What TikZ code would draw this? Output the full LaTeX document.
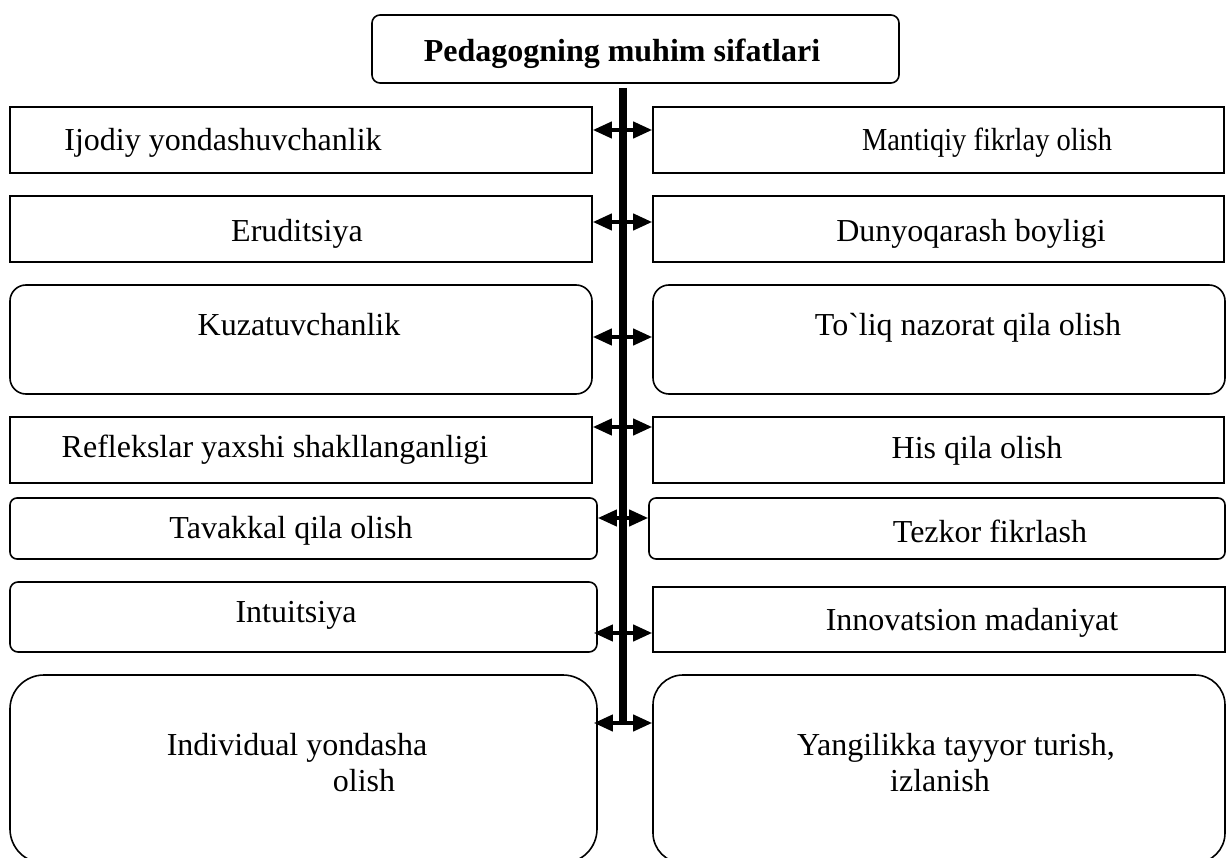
\documentclass[tikz,border=0pt]{standalone}
\usepackage{fontspec}
\setmainfont{Liberation Serif}
\newfontfamily\nomapserif{Liberation Serif}[Ligatures=TeXOff]
\usepackage{graphicx}
\usetikzlibrary{arrows.meta,calc}
\begin{document}
\begin{tikzpicture}[x=1pt,y=-1pt,
  box/.style={draw, line width=1.6pt, inner sep=0pt},
  txt/.style={font=\fontsize{32}{36}\selectfont, inner sep=0pt, align=center, yshift=-3pt},
  bar/.style={line width=7.5pt},
  arr/.style={line width=4pt, {Triangle[length=19pt,width=16pt]}-{Triangle[length=19pt,width=16pt]}}]
\useasboundingbox (0,0) rectangle (1227,858);
% title
\node[box, rounded corners=8pt, minimum width=527pt, minimum height=68pt] (title) at (635.5,49) {};
\node[txt, font=\fontsize{32}{36}\selectfont\bfseries] (tt) at (622,51) {Pedagogning muhim sifatlari};
% row 1
\node[box, minimum width=582pt, minimum height=66pt] (l1) at (301,140) {};
\node[box, minimum width=571pt, minimum height=66pt] (r1) at (938.5,140) {};
\node[txt] (tl1) at (223,140) {Ijodiy yondashuvchanlik};
\node[txt] (tr1) at (987,140) {\scalebox{0.89}[1]{Mantiqiy fikrlay olish}};
% row 2
\node[box, minimum width=582pt, minimum height=66pt] (l2) at (301,229) {};
\node[box, minimum width=571pt, minimum height=66pt] (r2) at (938.5,229) {};
\node[txt] (tl2) at (297,231) {Eruditsiya};
\node[txt] (tr2) at (971,231) {Dunyoqarash boyligi};
% row 3
\node[box, rounded corners=16pt, minimum width=582pt, minimum height=109pt] (l3) at (301,339.5) {};
\node[box, rounded corners=16pt, minimum width=572pt, minimum height=109pt] (r3) at (939,339.5) {};
\node[txt] (tl3) at (299,322) {Kuzatuvchanlik};
\node[txt] (tr3) at (968,325) {To{\nomapserif `}liq nazorat qila olish};
% row 4
\node[box, minimum width=582pt, minimum height=66pt] (l4) at (301,450) {};
\node[box, minimum width=571pt, minimum height=66pt] (r4) at (938.5,450) {};
\node[txt] (tl4) at (275,447) {Reflekslar yaxshi shakllanganligi};
\node[txt] (tr4) at (977,448) {His qila olish};
% row 5
\node[box, rounded corners=7pt, minimum width=587pt, minimum height=61pt] (l5) at (303.5,528.5) {};
\node[box, rounded corners=7pt, minimum width=576pt, minimum height=61pt] (r5) at (937,528.5) {};
\node[txt] (tl5) at (291,528) {Tavakkal qila olish};
\node[txt] (tr5) at (990,528) {Tezkor fikrlash};
% row 6
\node[box, rounded corners=8pt, minimum width=587pt, minimum height=70pt] (l6) at (303.5,617) {};
\node[box, minimum width=572pt, minimum height=65pt] (r6) at (939,619.5) {};
\node[txt] (tl6) at (296,612) {Intuitsiya};
\node[txt] (tr6) at (972,620) {Innovatsion madaniyat};
% row 7
\node[box, rounded corners=34pt, minimum width=587pt, minimum height=188pt] (l7) at (303.5,769) {};
\node[box, rounded corners=30pt, minimum width=572pt, minimum height=188pt] (r7) at (939,769) {};
\node[txt] (tl7) at (297,760) {Individual yondasha\\\hspace*{134pt}olish};
\node[txt] (tr7) at (956,760) {Yangilikka tayyor turish,\\izlanish\hspace*{32pt}};
% bar and arrows
\coordinate (bt) at (623,88);
\coordinate (a1) at (623,130);
\coordinate (a2) at (623,222);
\coordinate (a3) at (623,337);
\coordinate (a4) at (623,427);
\coordinate (a5) at (623,518);
\coordinate (a6) at (623,633);
\coordinate (a7) at (623,723);
\draw[bar] (bt) -- (a7);
\draw[arr] (l1.east |- a1) -- (r1.west |- a1);
\draw[arr] (l2.east |- a2) -- (r2.west |- a2);
\draw[arr] (l3.east |- a3) -- (r3.west |- a3);
\draw[arr] (l4.east |- a4) -- (r4.west |- a4);
\draw[arr] (l5.east |- a5) -- (r5.west |- a5);
\draw[arr] ($(l6.east |- a6)+(-4,0)$) -- (r6.west |- a6);
\draw[arr] ($(l7.east |- a7)+(-4,0)$) -- (r7.west |- a7);
\end{tikzpicture}
\end{document}
